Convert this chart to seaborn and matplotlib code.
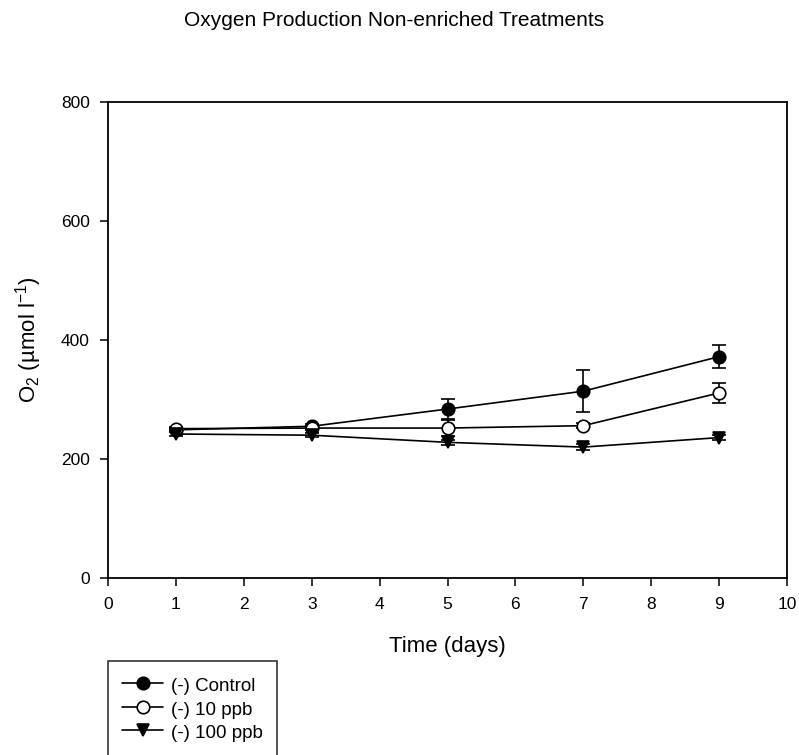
import matplotlib
matplotlib.use("Agg")
import matplotlib.pyplot as plt
import seaborn as sns
import pandas as pd
from matplotlib.lines import Line2D

days = [1, 3, 5, 7, 9]
control = [249, 255, 284, 314, 372]
control_err = [3, 3, 17, 35, 19]
ppb10 = [251, 252, 252, 256, 311]
ppb10_err = [3, 3, 14, 4, 17]
ppb100 = [242, 240, 228, 220, 236]
ppb100_err = [3, 3, 4, 5, 4]
labels = ["(-) Control", "(-) 10 ppb", "(-) 100 ppb"]
x_ticks = list(range(0, 11))
y_ticks = [0, 200, 400, 600, 800]

sns.set_theme(style="ticks")
plt.rcParams['font.family'] = ['Liberation Sans', 'DejaVu Sans']
plt.rcParams['mathtext.fontset'] = 'custom'
plt.rcParams['mathtext.rm'] = 'Liberation Sans'
plt.rcParams['mathtext.it'] = 'Liberation Sans'
for k in ['text.color', 'axes.labelcolor', 'xtick.color', 'ytick.color']:
    plt.rcParams[k] = 'black'

rows = []
for lab, vals in zip(labels, [control, ppb10, ppb100]):
    for d, v in zip(days, vals):
        rows.append({"day": d, "o2": v, "treatment": lab})
df = pd.DataFrame(rows)

fig = plt.figure(figsize=(7.99, 7.55), dpi=100)
ax = fig.add_axes([108/799, 1-578/755, (787-108)/799, (578-102)/755])

styles = {
    labels[0]: dict(marker="o", mfc="black", ms=9),
    labels[1]: dict(marker="o", mfc="white", ms=9),
    labels[2]: dict(marker="v", mfc="black", ms=9),
}
for lab, vals, errs in zip(labels, [control, ppb10, ppb100],
                           [control_err, ppb10_err, ppb100_err]):
    sub = df[df.treatment == lab]
    sns.lineplot(data=sub, x="day", y="o2", ax=ax, color="black", lw=1.2,
                 marker=styles[lab]["marker"], markersize=styles[lab]["ms"],
                 markerfacecolor=styles[lab]["mfc"], markeredgecolor="black",
                 markeredgewidth=1.2, legend=False, zorder=3)
    ax.errorbar(days, vals, yerr=errs, fmt="none", ecolor="black",
                elinewidth=1.2, capsize=5, capthick=1.2, zorder=2)

ax.set_xlim(0, 10)
ax.set_ylim(0, 800)
ax.set_xticks(x_ticks)
ax.set_yticks(y_ticks)
ax.tick_params(direction="out", length=6, width=1.1, colors="black",
               labelsize=12.5)
ax.tick_params(axis="x", pad=8)
ax.tick_params(axis="y", pad=7)
for s in ax.spines.values():
    s.set_visible(True)
    s.set_color("black")
    s.set_linewidth(1.3)
ax.set_xlabel("Time (days)", fontsize=16, labelpad=17)
ax.set_ylabel("O$_2$ (µmol l$^{-1}$)", fontsize=16, labelpad=12)

fig.text(0.493, 1-20/755, "Oxygen Production Non-enriched Treatments",
         ha="center", va="center", fontsize=15)

handles = []
for lab in labels:
    st = styles[lab]
    handles.append(Line2D([0], [0], color="black", lw=1.2, marker=st["marker"],
                          ms=st["ms"], mfc=st["mfc"], mec="black", mew=1.2))
blank = Line2D([0], [0], color="none")
handles_all = handles + [blank]
labels_all = labels + [" "]
leg = fig.legend(handles_all, labels_all, loc="upper left",
                 bbox_to_anchor=(108/799, 1-661/755), frameon=True,
                 fancybox=False, edgecolor="black", fontsize=13.5,
                 handlelength=2.2, handleheight=1.2, handletextpad=0.43,
                 labelspacing=0.2, borderpad=0.75, borderaxespad=0)
leg.get_frame().set_linewidth(1.2)

fig.savefig("out.png", dpi=100, facecolor="white")
